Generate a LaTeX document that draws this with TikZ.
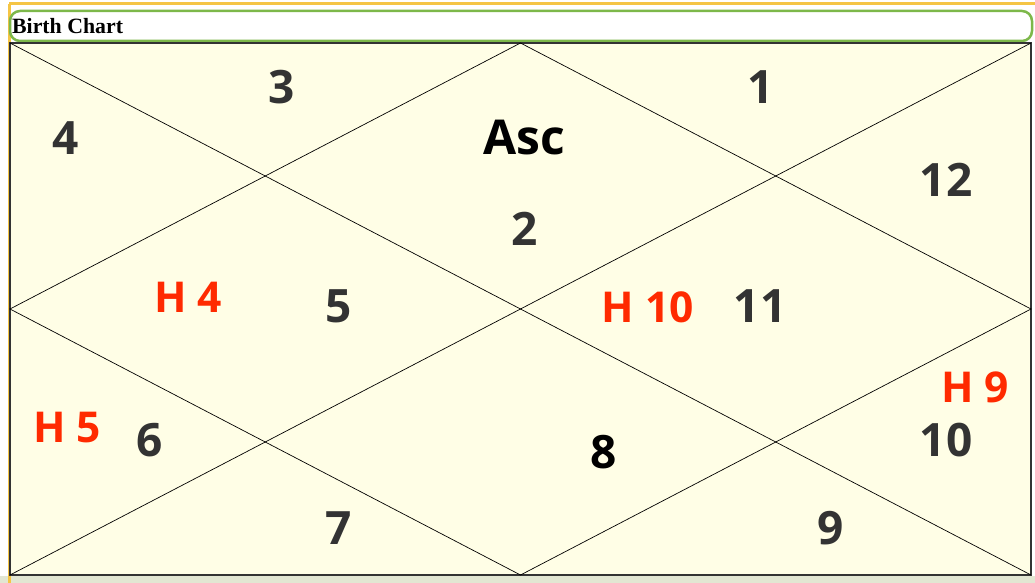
\documentclass[tikz,border=0pt]{standalone}
\usepackage{fontspec}
\setmainfont{Open Sans}
\newfontfamily\titlefont{Liberation Serif}
\definecolor{bgyellow}{HTML}{FFFEE6}
\definecolor{frameorange}{HTML}{F5C545}
\definecolor{bargreen}{HTML}{7DB84A}
\definecolor{numgray}{HTML}{333333}
\definecolor{hred}{HTML}{FF2A00}
\definecolor{groundgreen}{HTML}{E2E6D2}
\tikzset{
  chartline/.style={draw=black, line width=0.7pt},
  num/.style={text=numgray, font=\fontsize{46}{46}\selectfont\bfseries, inner sep=0pt, anchor=center},
  numblack/.style={num, text=black},
  house/.style={text=hred, font=\fontsize{42.5}{42.5}\selectfont\bfseries, inner sep=0pt, anchor=center},
}
\begin{document}
\begin{tikzpicture}[x=1pt,y=-1pt]
\useasboundingbox (0,0) rectangle (1035,583);
\fill[white] (0,0) rectangle (1035,583);
\fill[groundgreen] (0,576) rectangle (1035,583);
% outer frame
\draw[frameorange, line width=3pt] (9,4) -- (1036,4);
\draw[frameorange, line width=3pt] (9,4) -- (9,583);
% title bar
\draw[bargreen, line width=2.5pt, fill=white, rounded corners=10pt] (10,11) rectangle (1032,41);
\node[anchor=west, inner sep=0pt, font=\titlefont\bfseries\fontsize{21.8}{22}\selectfont] (title) at (12,26) {Birth Chart};
% chart area
\fill[bgyellow] (10,43) rectangle (1031,575);
\draw[draw=numgray, line width=1.5pt] (10,43) rectangle (1031,575);
\coordinate (TL) at (10,43);
\coordinate (TR) at (1031,43);
\coordinate (BL) at (10,575);
\coordinate (BR) at (1031,575);
\coordinate (T) at (520.5,43);
\coordinate (L) at (10,309);
\coordinate (R) at (1031,309);
\coordinate (B) at (520.5,575);
\draw[chartline] (TL) -- (BR);
\draw[chartline] (TR) -- (BL);
\draw[chartline] (T) -- (R) -- (B) -- (L) -- cycle;
% labels
\node[num] (n3) at (282,87) {3};
\node[num] (n1) at (761,87) {1};
\node[num] (n4) at (66,138) {4};
\node[numblack, font=\fontsize{48}{48}\selectfont\bfseries] (asc) at (524,138) {Asc};
\node[num] (n12) at (946,180) {12};
\node[num] (n2) at (525,229) {2};
\node[house] (h4) at (188,297) {H 4};
\node[num] (n5) at (339,306) {5};
\node[house] (h10) at (648,307) {H 10};
\node[num] (n11) at (760,306) {11};
\node[house] (h9) at (975,387) {H 9};
\node[house] (h5) at (67,428) {H 5};
\node[num] (n6) at (150,440) {6};
\node[num] (n10) at (946,440) {10};
\node[numblack] (n8) at (604,452) {8};
\node[num] (n7) at (339,528) {7};
\node[num] (n9) at (831,528) {9};
\end{tikzpicture}
\end{document}
